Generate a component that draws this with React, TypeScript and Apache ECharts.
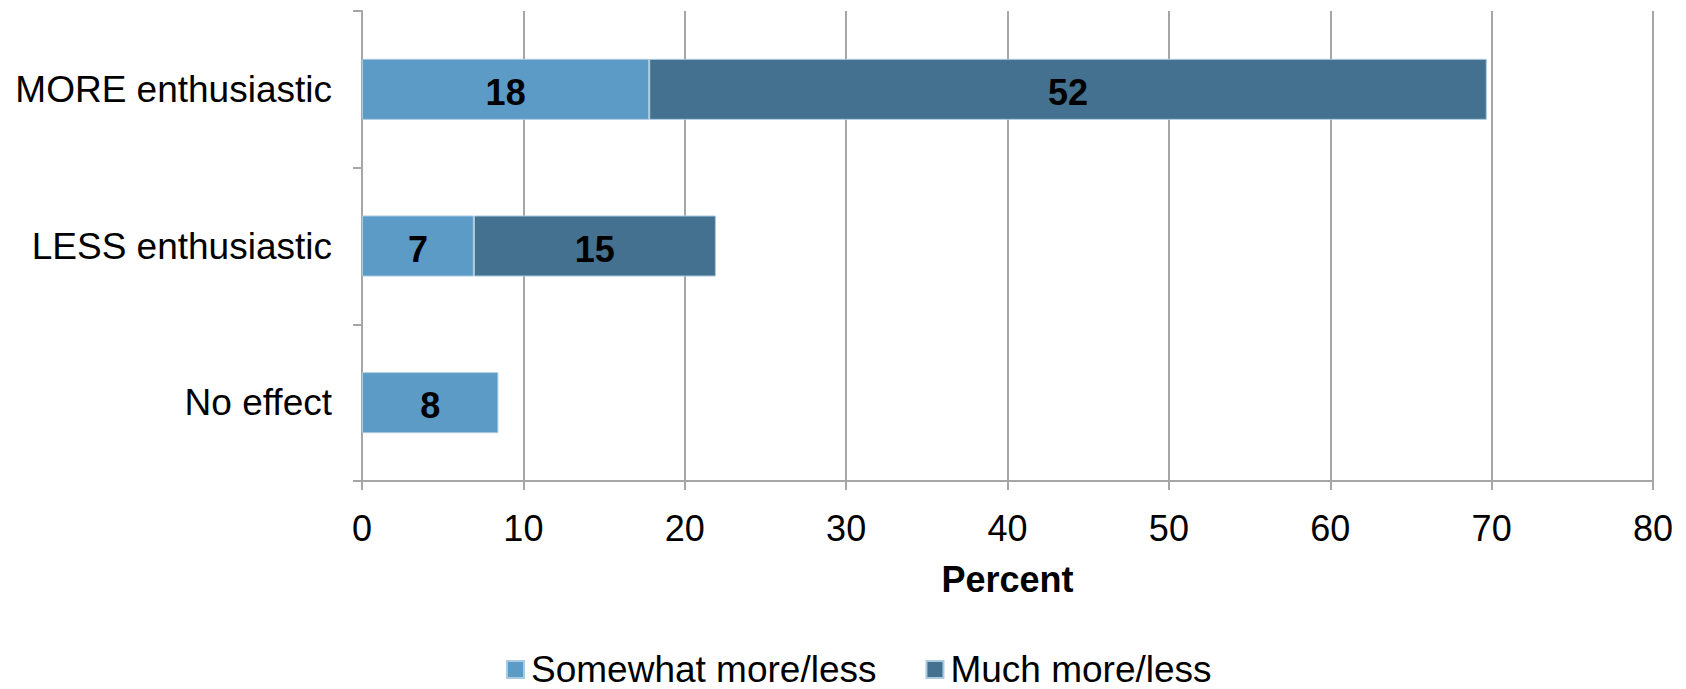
import React, { useEffect, useRef } from "react";
import * as echarts from "echarts";

const categories = ["MORE enthusiastic", "LESS enthusiastic", "No effect"];
const somewhatValues = [17.8, 6.93, 8.45];
const muchValues: (number | null)[] = [51.9, 15.0, null];
const seriesNames = ["Somewhat more/less", "Much more/less"];
const xTicks = [0, 80, 10];
const axisTitle = "Percent";

const FONT = "'Liberation Sans', Arial, Helvetica, sans-serif";
const GRAY = "#a6a6a6";

export default function App() {
  const ref = useRef<HTMLDivElement>(null);
  useEffect(() => {
    if (!ref.current) return;
    const chart = echarts.init(ref.current, undefined, { renderer: "svg" });
    const labelCfg = {
      show: true,
      position: "inside",
      offset: [0, 3],
      color: "#000",
      fontWeight: "bold",
      fontSize: 36,
      fontFamily: FONT,
      formatter: (p: any) => String(Math.round(p.value)),
    };
    chart.setOption({
      animation: false,
      backgroundColor: "#fff",
      textStyle: { fontFamily: FONT },
      grid: { left: 362, right: 33, top: 11, bottom: 208, containLabel: false },
      legend: {
        left: 501,
        top: 646,
        itemWidth: 17,
        itemHeight: 17,
        itemGap: 49,
        icon: "rect",
        textStyle: { fontSize: 37, color: "#000", fontFamily: FONT, padding: [0, 0, 0, 2] },
        data: seriesNames,
      },
      xAxis: {
        type: "value",
        min: xTicks[0],
        max: xTicks[1],
        interval: xTicks[2],
        name: axisTitle,
        nameLocation: "middle",
        nameGap: 80,
        nameTextStyle: { fontSize: 36, fontWeight: "bold", color: "#000", fontFamily: FONT },
        axisLine: { show: true, lineStyle: { color: GRAY, width: 2 } },
        axisTick: { show: true, length: 9, lineStyle: { color: GRAY, width: 2 } },
        splitLine: { show: true, lineStyle: { color: GRAY, width: 2 } },
        axisLabel: { fontSize: 36, color: "#000", margin: 29, fontFamily: FONT },
      },
      yAxis: {
        type: "category",
        inverse: true,
        data: categories,
        axisLine: { show: true, lineStyle: { color: GRAY, width: 2 } },
        axisTick: { show: true, length: 9, alignWithLabel: false, lineStyle: { color: GRAY, width: 2 } },
        splitLine: { show: false },
        axisLabel: { fontSize: 37, color: "#000", margin: 30, fontFamily: FONT, padding: [6, 0, 0, 0] },
      },
      series: [
        {
          name: seriesNames[0],
          type: "bar",
          stack: "total",
          barWidth: 61,
          data: somewhatValues,
          itemStyle: { color: "#5b9bc6", borderColor: "#a9cbe2", borderWidth: 1 },
          label: labelCfg,
        },
        {
          name: seriesNames[1],
          type: "bar",
          stack: "total",
          barWidth: 61,
          data: muchValues,
          itemStyle: { color: "#43718f", borderColor: "#a9cbe2", borderWidth: 1 },
          label: labelCfg,
        },
      ],
    });
    return () => chart.dispose();
  }, []);
  return (
    <div
      ref={ref}
      style={{ position: "fixed", left: 0, top: 0, width: 1686, height: 689 }}
    />
  );
}
